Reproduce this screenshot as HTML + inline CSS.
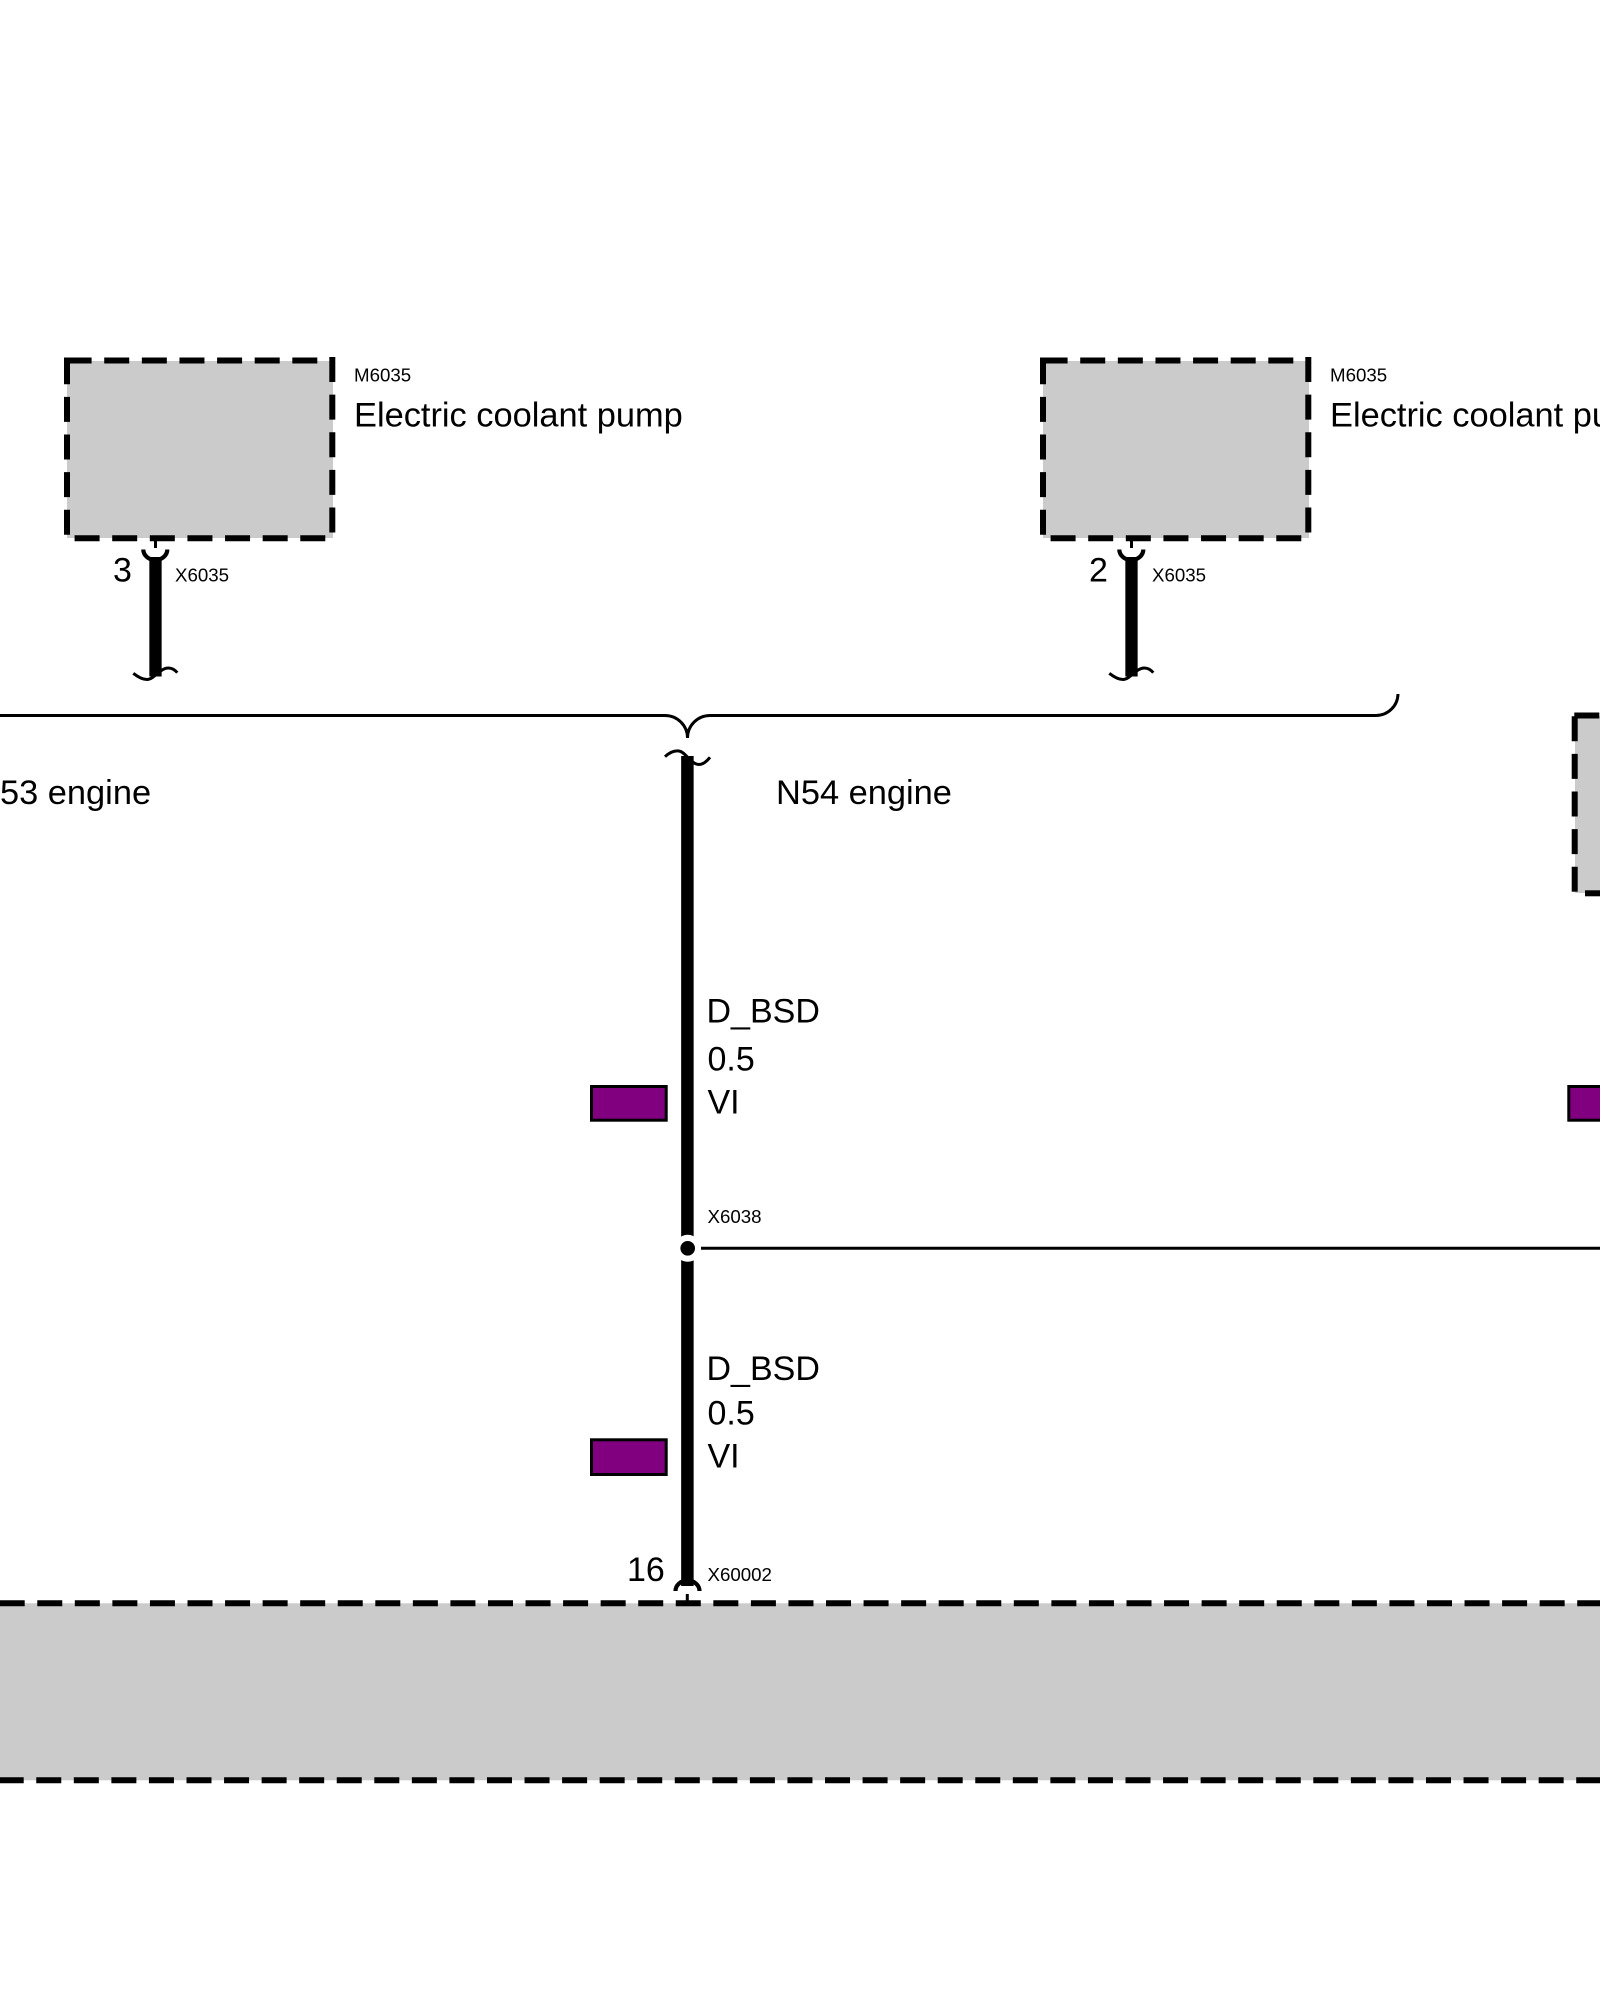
<!DOCTYPE html>
<html><head><meta charset="utf-8"><style>
html,body{margin:0;padding:0;background:#fff;width:1600px;height:2000px;overflow:hidden}
svg{display:block}
text{font-family:"Liberation Sans",Arial,sans-serif;fill:#000}
.s{font-size:18.7px}.m{font-size:34px}.l{font-size:34.4px}
</style></head><body>
<svg width="1600" height="2000" viewBox="0 0 1600 2000" xmlns="http://www.w3.org/2000/svg">
<rect width="1600" height="2000" fill="#fff"/>
<defs>
<g id="pump">
<rect x="67" y="361" width="266" height="177" fill="#cbcbcb"/>
<g fill="none" stroke="#000" stroke-width="6" stroke-dasharray="25 12.62">
<path d="M66.6 360.5H334"/>
<path d="M332.3 357V540"/>
<path d="M325.3 538.3H72"/>
<path d="M67 534.7V362"/>
</g>
<path d="M64 357.500H70V383.500H64Z" fill="#000"/>
<path d="M155.500 541V548" stroke="#000" stroke-width="3" fill="none"/>
<path d="M143.300 549.500A12 10.500 0 0 0 167.300 549.500" stroke="#000" stroke-width="4.200" fill="none"/>
<path d="M155.500 557V676.500" stroke="#000" stroke-width="12.300" fill="none"/>
<path d="M133.300 673.300C138 677 143 679.500 147 679.500C154 679.500 160 668 168.300 668C172 668 175 670 177.300 672.700" stroke="#000" stroke-width="3" fill="none"/>
</g>
</defs>
<use href="#pump"/>
<use href="#pump" transform="translate(976,0)"/>
<text class="s" x="354" y="381.500">M6035</text>
<text class="l" x="354" y="426.500">Electric coolant pump</text>
<text class="m" x="113" y="581.500">3</text>
<text class="s" x="175" y="581.500">X6035</text>
<text class="s" x="1330" y="381.500">M6035</text>
<text class="l" x="1330" y="426.500">Electric coolant pump</text>
<text class="m" x="1089" y="581.500">2</text>
<text class="s" x="1152" y="581.500">X6035</text>

<g fill="none" stroke="#000" stroke-width="3">
<path d="M0 715.500H665A22.500 22.500 0 0 1 687.500 738A22.500 22.500 0 0 1 710 715.500H1376A22 22 0 0 0 1398 694"/>
<path d="M665 756.700C670 752 675 750.500 679 751C686 752 690 764 699 764.500C703 764.500 707 761 710 757.300"/>
</g>
<path d="M687.400 756V1586" stroke="#000" stroke-width="12.500"/>
<text class="l" x="0" y="804">53 engine</text>
<text class="l" x="776" y="804">N54 engine</text>

<text class="m" x="706.500" y="1022.500">D_BSD</text>
<text class="m" x="707.500" y="1070.300">0.5</text>
<text class="m" x="707.500" y="1113.500">VI</text>
<rect x="591.500" y="1086.500" width="74.700" height="33.700" fill="#800080" stroke="#000" stroke-width="3"/>
<rect x="1568.800" y="1086.500" width="74.700" height="33.700" fill="#800080" stroke="#000" stroke-width="3"/>

<text class="s" x="707.500" y="1223">X6038</text>
<circle cx="687.700" cy="1248.300" r="13.500" fill="#fff"/>
<circle cx="687.700" cy="1248.300" r="7.300" fill="#000"/>
<path d="M701 1248.300H1600" stroke="#000" stroke-width="3"/>

<text class="m" x="706.500" y="1380">D_BSD</text>
<text class="m" x="707.500" y="1424.300">0.5</text>
<text class="m" x="707.500" y="1467.500">VI</text>
<rect x="591.500" y="1439.800" width="74.700" height="34.700" fill="#800080" stroke="#000" stroke-width="3"/>

<text class="m" x="627" y="1581">16</text>
<text class="s" x="707.500" y="1581">X60002</text>

<rect x="0" y="1603.300" width="1600" height="177" fill="#cbcbcb"/>
<g fill="none" stroke="#000" stroke-width="6" stroke-dasharray="25 12.56">
<path d="M-0.300 1603.300H1600"/>
<path d="M-1.300 1780.300H1600"/>
</g>
<path d="M687.300 1594V1602" stroke="#000" stroke-width="3"/>
<path d="M675.500 1591A12 10.500 0 0 1 699.500 1591" fill="none" stroke="#000" stroke-width="4.200"/>

<rect x="1575" y="716" width="25" height="177" fill="#cbcbcb"/>
<g fill="none" stroke="#000" stroke-width="6" stroke-dasharray="25 12.62">
<path d="M1574.700 891.700V716"/>
<path d="M1574.300 715.500H1600"/>
<path d="M1585 893.300H1600"/>
</g>
</svg>
</body></html>
